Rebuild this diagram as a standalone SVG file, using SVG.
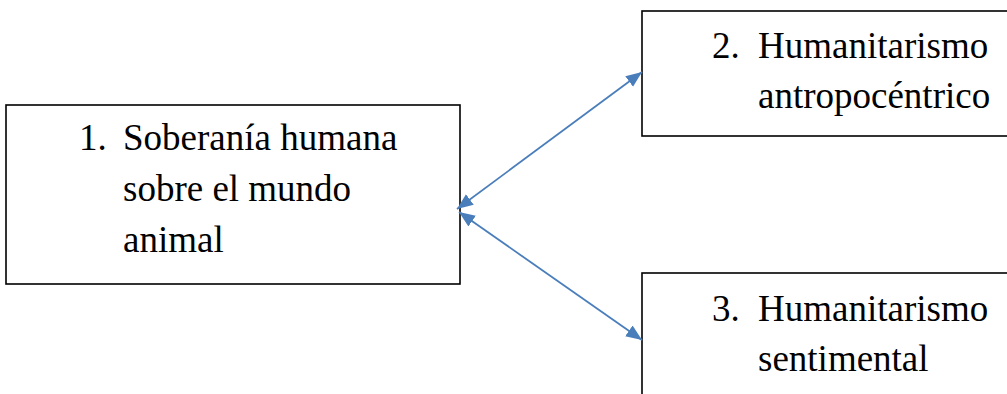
<svg xmlns="http://www.w3.org/2000/svg" width="1007" height="394" viewBox="0 0 1007 394">
<style>
.box{fill:#fff;stroke:#000;stroke-width:1.6}
.t{font-family:'Liberation Serif',serif;font-size:37px;fill:#000}
.c{stroke:#4A7EBB;stroke-width:1.8;fill:none;marker-start:url(#ah);marker-end:url(#ah)}
</style>
<defs>
<marker id="ah" markerUnits="userSpaceOnUse" markerWidth="17" markerHeight="14" refX="16" refY="6.5" orient="auto-start-reverse" viewBox="0 0 17 13">
<path d="M0,0 L16,6.5 L0,13 z" fill="#4A7EBB"/>
</marker>
</defs>
<g id="node1" font-family="Liberation Serif, serif">
<rect class="box" x="6" y="105" width="454" height="179"/>
<text class="t" x="79" y="150">1.</text>
<text class="t" x="123" y="150">Soberanía humana</text>
<text class="t" x="123" y="201">sobre el mundo</text>
<text class="t" x="123" y="252">animal</text>
</g>
<g id="node2" font-family="Liberation Serif, serif">
<rect class="box" x="642" y="11" width="380" height="125"/>
<text class="t" x="712" y="58">2.</text>
<text class="t" x="758" y="58">Humanitarismo</text>
<text class="t" x="758" y="108">antropocéntrico</text>
</g>
<g id="node3" font-family="Liberation Serif, serif">
<rect class="box" x="642" y="273" width="380" height="140"/>
<text class="t" x="712" y="321">3.</text>
<text class="t" x="758" y="321">Humanitarismo</text>
<text class="t" x="758" y="371">sentimental</text>
</g>
<g id="connectors">
<line class="c" x1="457" y1="209" x2="642" y2="72"/>
<line class="c" x1="459" y1="212" x2="642" y2="340"/>
</g>
</svg>
